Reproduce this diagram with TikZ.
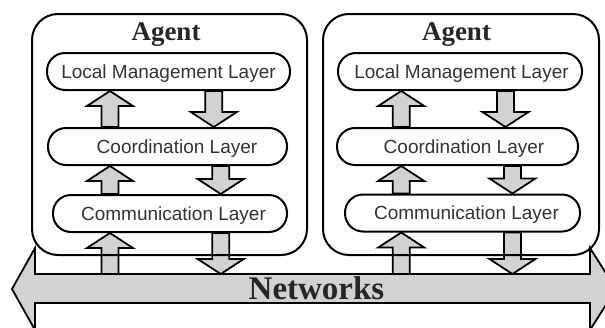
\documentclass[tikz,border=0pt]{standalone}
\usepackage{fontspec}
\setmainfont{Liberation Serif}
\newfontfamily\layerfont{Liberation Sans}
\usetikzlibrary{calc}
\usetikzlibrary{backgrounds}
\tikzset{agentbox/.style = {draw, line width=2pt, rounded corners=26pt, inner sep=0}}
\tikzset{layerbox/.style = {draw, fill=white, line width=2pt, rounded corners=18pt,
                            minimum height=37pt, inner sep=0, text height=13.7pt, text depth=0pt,
                            font=\layerfont\fontsize{19}{22}\selectfont, text=black!80}}
\tikzset{blkarrow/.style = {draw, fill=gray!35, line width=1.8pt}}
\tikzset{headtext/.style = {anchor=base, font=\bfseries\fontsize{27}{30}\selectfont, text=black!85}}
\tikzset{nettext/.style = {anchor=base, font=\bfseries\fontsize{33}{36}\selectfont, text=black!85}}
% block arrow from #1 to #2 (same vertical line)
\newcommand\blk[2]{\path[blkarrow] let \p1=#1, \p2=#2, \p3=($#2!15pt!#1$) in
  (\x1-8.5pt,\y1) -- (\x1-8.5pt,\y3) -- (\x1-23pt,\y3) -- (\x1,\y2) -- (\x1+23pt,\y3)
  -- (\x1+8.5pt,\y3) -- (\x1+8.5pt,\y1) -- cycle;}

\begin{document}
\begin{tikzpicture}[x=1pt, y=-1pt]
  \useasboundingbox (0, 0) rectangle (605, 327);

  \node [agentbox, minimum width=275, minimum height=241] (agentA) at (169.5, 134.5) {};
  \node [agentbox, minimum width=276, minimum height=241] (agentB) at (461, 134.5) {};

  \node [layerbox, minimum width=243] (lmlA) at (168.5, 71.5) {Local Management Layer};
  \node [layerbox, minimum width=239] (colA) at (167.5, 146.5) {\hspace*{19pt}Coordination Layer};
  \node [layerbox, minimum width=234] (comA) at (170, 213.5) {\hspace*{7pt}Communication Layer};
  \node [layerbox, minimum width=244] (lmlB) at (460, 71.5) {\hspace*{3pt}Local Management Layer};
  \node [layerbox, minimum width=241] (colB) at (457.5, 146.5) {\hspace*{13pt}Coordination Layer};
  \node [layerbox, minimum width=235] (comB) at (462.5, 213) {\hspace*{8pt}Communication Layer};

  \node [headtext] (agentAtext) at (166, 40) {Agent};
  \node [headtext] (agentBtext) at (456.5, 40) {Agent};

  \coordinate (netTop) at (0, 274);
  \node [nettext] (net) at (316.5, 299) {Networks};

  \coordinate (upA) at ($(agentA.west)!0.285!(agentA.east)$);
  \coordinate (dnA) at ($(agentA.west)!0.66!(agentA.east)$);
  \coordinate (dnA2) at ($(agentA.west)!0.685!(agentA.east)$);
  \coordinate (upB) at ($(agentB.west)!0.285!(agentB.east)$);
  \coordinate (dnB) at ($(agentB.west)!0.66!(agentB.east)$);
  \coordinate (dnB2) at ($(agentB.west)!0.685!(agentB.east)$);

  \begin{pgfonlayer}{background}
    \draw [blkarrow] (12, 289) -- (35, 248) -- (35, 274) -- (590, 274) -- (590, 248) -- (616, 289)
      -- (590, 330) -- (590, 303) -- (35, 303) -- (35, 330) -- cycle;
    %insert arrows
    \blk{(upA |- colA.north)}{(upA |- lmlA.south)}
    \blk{(dnA |- lmlA.south)}{(dnA |- colA.north)}
    \blk{(upA |- comA.north)}{(upA |- colA.south)}
    \blk{(dnA2 |- colA.south)}{(dnA2 |- comA.north)}
    \blk{(upA |- netTop)}{(upA |- comA.south)}
    \blk{(dnA2 |- comA.south)}{(dnA2 |- netTop)}
    \blk{(upB |- colB.north)}{(upB |- lmlB.south)}
    \blk{(dnB |- lmlB.south)}{(dnB |- colB.north)}
    \blk{(upB |- comB.north)}{(upB |- colB.south)}
    \blk{(dnB2 |- colB.south)}{(dnB2 |- comB.north)}
    \blk{(upB |- netTop)}{(upB |- comB.south)}
    \blk{(dnB2 |- comB.south)}{(dnB2 |- netTop)}
  \end{pgfonlayer}
\end{tikzpicture}
\end{document}
